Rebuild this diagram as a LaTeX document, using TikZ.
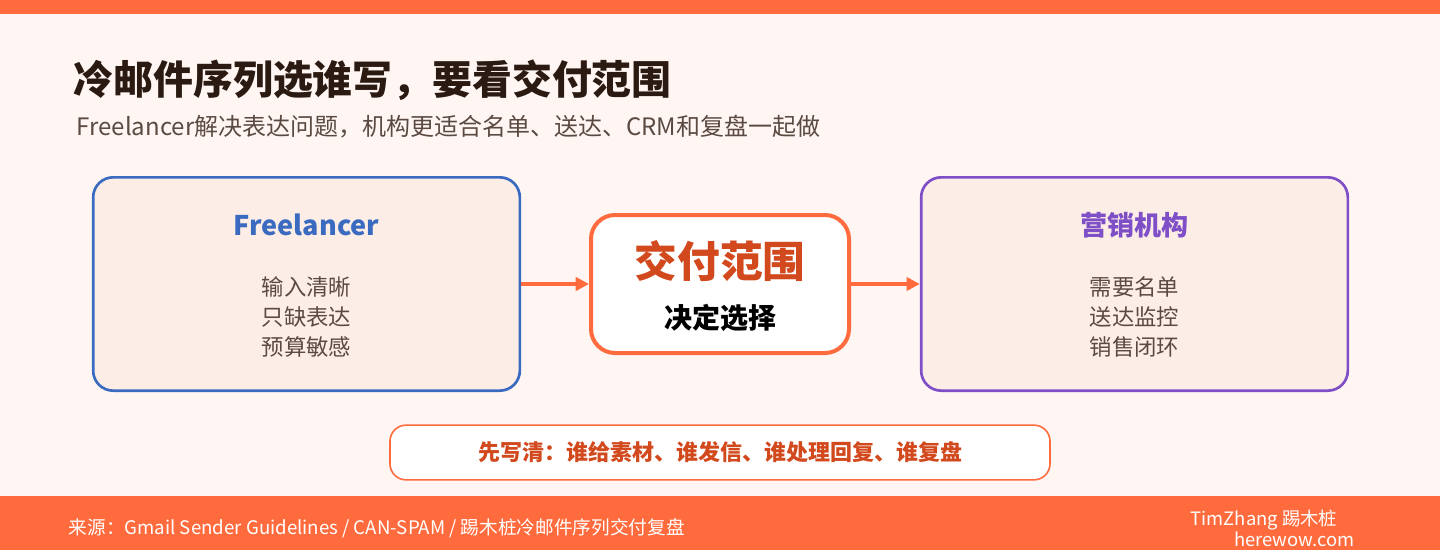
\documentclass[tikz,border=0pt]{standalone}
\usepackage{fontspec}
\setmainfont{Noto Sans CJK SC}
\usetikzlibrary{arrows.meta}
\definecolor{bg}{HTML}{FFF6F3}
\definecolor{org}{HTML}{FF6B3D}
\definecolor{dark}{HTML}{2B1A12}
\definecolor{txt}{HTML}{5A4A42}
\definecolor{blu}{HTML}{3A6BC0}
\definecolor{pur}{HTML}{7E4FC6}
\definecolor{red}{HTML}{D2491E}
\definecolor{boxf}{HTML}{FCEEE6}
\begin{document}
\begin{tikzpicture}[x=0.75pt,y=-0.75pt,
  side/.style={draw=#1,line width=2pt,fill=boxf,rounded corners=15pt,minimum width=320pt,minimum height=160pt},
  body/.style={text=txt,font=\fontsize{16.8}{22.5}\selectfont,align=center},
  arr/.style={draw=org,line width=3pt,-{Triangle[length=10pt,width=10pt]}}]
\useasboundingbox (0,0) rectangle (1440,550);
\fill[bg] (0,0) rectangle (1440,550);
\fill[org] (0,0) rectangle (1440,14);
\fill[org] (0,496) rectangle (1440,550);
\node[anchor=west,text=dark,font=\fontsize{29.9}{34}\selectfont\bfseries] (title) at (69,80) {冷邮件序列选谁写，要看交付范围};
\node[anchor=west,text=txt,font=\fontsize{18}{22}\selectfont] (sub) at (72,127) {Freelancer解决表达问题，机构更适合名单、送达、CRM和复盘一起做};
\node[side=blu] (L) at (306.5,284) {};
\node[text=blu,font=\fontsize{20.3}{24}\selectfont\bfseries] (Lt) at (306.5,225) {Freelancer};
\node[body] (Lb) at (306.5,317) {输入清晰\\只缺表达\\预算敏感};
\node[side=pur] (R) at (1134.5,284) {};
\node[text=pur,font=\fontsize{20.3}{24}\selectfont\bfseries] (Rt) at (1134.5,225) {营销机构};
\node[body] (Rb) at (1134.5,317) {需要名单\\送达监控\\销售闭环};
\node[draw=org,line width=3pt,fill=white,rounded corners=18pt,minimum width=193.5pt,minimum height=103.5pt] (C) at (720,284) {};
\node[text=red,font=\fontsize{32}{38}\selectfont\bfseries] (Ct) at (720,261) {交付范围};
\node[text=black,font=\fontsize{21}{25}\selectfont\bfseries] (Cb) at (720,318) {决定选择};
\draw[arr] (L.east) -- (C.west);
\draw[arr] (C.east) -- (R.west);
\node[draw=org,line width=1.2pt,fill=white,rounded corners=12pt,minimum width=495pt,minimum height=41pt,text=red,font=\fontsize{16.5}{20}\selectfont\bfseries] (N) at (720,452.5) {先写清：谁给素材、谁发信、谁处理回复、谁复盘};
\node[anchor=west,text=white,font=\fontsize{14}{17}\selectfont] (src) at (64,528) {来源：Gmail Sender Guidelines / CAN-SPAM / 踢木桩冷邮件序列交付复盘};
\node[anchor=west,text=white,font=\fontsize{13.8}{17}\selectfont] (au) at (1186,520) {TimZhang 踢木桩};
\node[anchor=east,text=white,font=\fontsize{13.8}{17}\selectfont] (web) at (1359,539) {herewow.com};
\end{tikzpicture}
\end{document}
